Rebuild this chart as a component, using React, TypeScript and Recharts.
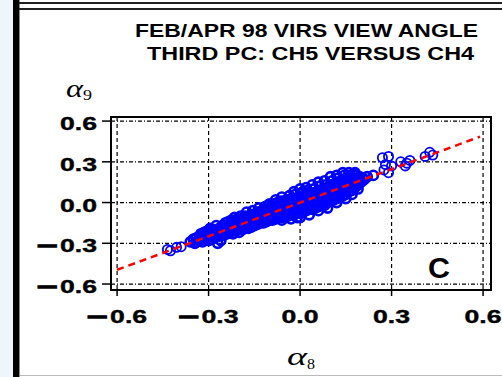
import React from "react";
import {
  CartesianGrid,
  ReferenceArea,
  Scatter,
  ScatterChart,
  XAxis,
  YAxis,
} from "recharts";

// alpha_8 (x) vs alpha_9 (y), third PC, ch5 versus ch4
const mainBand: [number, number][] = [
  [-0.36, -0.29], [-0.35, -0.27], [-0.345, -0.3],
  [-0.34, -0.29], [-0.34, -0.26],
  [-0.33, -0.28], [-0.33, -0.25], [-0.325, -0.23],
  [-0.32, -0.29], [-0.32, -0.26], [-0.315, -0.22],
  [-0.31, -0.27], [-0.31, -0.24], [-0.305, -0.21],
  [-0.3, -0.28], [-0.3, -0.25], [-0.3, -0.22], [-0.295, -0.19],
  [-0.29, -0.27], [-0.29, -0.24], [-0.285, -0.2],
  [-0.28, -0.26], [-0.28, -0.23], [-0.28, -0.2], [-0.275, -0.17],
  [-0.27, -0.3], [-0.27, -0.25], [-0.27, -0.22], [-0.265, -0.19],
  [-0.26, -0.28], [-0.26, -0.24], [-0.26, -0.21], [-0.255, -0.17],
  [-0.25, -0.24], [-0.25, -0.21], [-0.25, -0.18], [-0.245, -0.15],
  [-0.24, -0.23], [-0.24, -0.2], [-0.24, -0.17], [-0.235, -0.14],
  [-0.23, -0.22], [-0.23, -0.19], [-0.23, -0.16], [-0.225, -0.13],
  [-0.22, -0.23], [-0.22, -0.2], [-0.22, -0.17], [-0.22, -0.14], [-0.215, -0.11],
  [-0.21, -0.21], [-0.21, -0.18], [-0.21, -0.15], [-0.205, -0.12],
  [-0.2, -0.22], [-0.2, -0.19], [-0.2, -0.16], [-0.2, -0.13], [-0.195, -0.1],
  [-0.19, -0.2], [-0.19, -0.17], [-0.19, -0.14], [-0.185, -0.11],
  [-0.18, -0.19], [-0.18, -0.16], [-0.18, -0.13], [-0.18, -0.1], [-0.175, -0.07],
  [-0.17, -0.19], [-0.17, -0.16], [-0.17, -0.13], [-0.165, -0.1],
  [-0.16, -0.18], [-0.16, -0.15], [-0.16, -0.12], [-0.16, -0.09], [-0.155, -0.06],
  [-0.15, -0.17], [-0.15, -0.14], [-0.15, -0.11], [-0.145, -0.08],
  [-0.14, -0.16], [-0.14, -0.13], [-0.14, -0.1], [-0.14, -0.07], [-0.135, -0.04],
  [-0.13, -0.15], [-0.13, -0.12], [-0.13, -0.09], [-0.125, -0.06],
  [-0.12, -0.15], [-0.12, -0.12], [-0.12, -0.09], [-0.12, -0.06], [-0.115, -0.03],
  [-0.11, -0.14], [-0.11, -0.11], [-0.11, -0.08], [-0.11, -0.05], [-0.105, -0.02],
  [-0.1, -0.13], [-0.1, -0.1], [-0.1, -0.07], [-0.095, -0.04], [-0.1, -0.01],
  [-0.09, -0.13], [-0.09, -0.1], [-0.09, -0.07], [-0.09, -0.04], [-0.085, -0.01],
  [-0.08, -0.12], [-0.08, -0.09], [-0.08, -0.06], [-0.08, -0.03], [-0.075, 0.0], [-0.08, 0.02],
  [-0.07, -0.11], [-0.07, -0.08], [-0.07, -0.05], [-0.07, -0.02], [-0.065, 0.01],
  [-0.06, -0.13], [-0.06, -0.11], [-0.06, -0.08], [-0.06, -0.05], [-0.06, -0.02], [-0.055, 0.01], [-0.06, 0.04],
  [-0.05, -0.1], [-0.05, -0.07], [-0.05, -0.04], [-0.05, -0.01], [-0.045, 0.02],
  [-0.04, -0.1], [-0.04, -0.07], [-0.04, -0.04], [-0.04, -0.01], [-0.04, 0.02], [-0.035, 0.05],
  [-0.03, -0.12], [-0.03, -0.09], [-0.03, -0.06], [-0.03, -0.03], [-0.03, 0.0], [-0.025, 0.03],
  [-0.02, -0.09], [-0.02, -0.06], [-0.02, -0.03], [-0.02, 0.0], [-0.02, 0.03], [-0.015, 0.06], [-0.02, 0.08],
  [-0.01, -0.11], [-0.01, -0.08], [-0.01, -0.05], [-0.01, -0.02], [-0.01, 0.01], [-0.005, 0.04],
  [0.0, -0.11], [0.0, -0.08], [0.0, -0.05], [0.0, -0.02], [0.0, 0.01], [0.0, 0.04], [0.005, 0.07], [0.0, 0.1],
  [0.01, -0.07], [0.01, -0.04], [0.01, -0.01], [0.01, 0.02], [0.015, 0.05], [0.01, 0.08],
  [0.02, -0.06], [0.02, -0.03], [0.02, 0.0], [0.02, 0.03], [0.02, 0.06], [0.025, 0.09], [0.02, 0.11],
  [0.03, -0.09], [0.03, -0.05], [0.03, -0.02], [0.03, 0.01], [0.03, 0.04], [0.035, 0.07],
  [0.04, -0.05], [0.04, -0.02], [0.04, 0.01], [0.04, 0.04], [0.04, 0.07], [0.045, 0.1], [0.04, 0.13],
  [0.05, -0.04], [0.05, -0.01], [0.05, 0.02], [0.05, 0.05], [0.055, 0.08],
  [0.06, -0.06], [0.06, -0.03], [0.06, 0.0], [0.06, 0.03], [0.06, 0.06], [0.06, 0.09], [0.065, 0.12], [0.06, 0.15],
  [0.07, -0.02], [0.07, 0.01], [0.07, 0.04], [0.07, 0.07], [0.075, 0.1],
  [0.08, -0.02], [0.08, 0.01], [0.08, 0.04], [0.08, 0.07], [0.08, 0.1], [0.085, 0.13], [0.08, 0.16],
  [0.09, -0.04], [0.09, 0.0], [0.09, 0.03], [0.09, 0.06], [0.09, 0.09], [0.095, 0.12],
  [0.1, 0.01], [0.1, 0.04], [0.1, 0.07], [0.1, 0.1], [0.1, 0.13], [0.105, 0.16], [0.1, 0.19],
  [0.11, 0.02], [0.11, 0.05], [0.11, 0.08], [0.11, 0.11], [0.115, 0.14],
  [0.12, 0.0], [0.12, 0.03], [0.12, 0.06], [0.12, 0.09], [0.12, 0.12], [0.12, 0.15], [0.125, 0.18], [0.12, 0.2],
  [0.13, 0.04], [0.13, 0.07], [0.13, 0.1], [0.13, 0.13], [0.135, 0.16],
  [0.14, 0.05], [0.14, 0.08], [0.14, 0.11], [0.14, 0.14], [0.14, 0.17], [0.145, 0.2], [0.14, 0.22],
  [0.15, 0.03], [0.15, 0.06], [0.15, 0.09], [0.15, 0.12], [0.15, 0.15], [0.155, 0.18],
  [0.16, 0.08], [0.16, 0.11], [0.16, 0.14], [0.16, 0.17], [0.165, 0.2], [0.16, 0.22],
  [0.17, 0.06], [0.17, 0.09], [0.17, 0.12], [0.17, 0.15], [0.17, 0.18], [0.175, 0.21],
  [0.18, 0.11], [0.18, 0.14], [0.18, 0.17], [0.185, 0.2], [0.18, 0.22],
  [0.19, 0.1], [0.19, 0.13], [0.19, 0.16], [0.195, 0.19],
  [0.2, 0.15], [0.205, 0.18],
  [0.21, 0.17], [0.22, 0.19], [0.24, 0.2],
];

const lowerCluster: [number, number][] = [
  [-0.435, -0.345], [-0.425, -0.355], [-0.405, -0.33], [-0.39, -0.325],
];

const upperClusters: [number, number][] = [
  [0.27, 0.33], [0.29, 0.34], [0.28, 0.28], [0.29, 0.22], [0.275, 0.24], [0.3, 0.27],
  [0.33, 0.3], [0.345, 0.27], [0.36, 0.31], [0.35, 0.29],
  [0.41, 0.34], [0.425, 0.37], [0.435, 0.35],
];

const fitLine = [
  { x: -0.6, y: -0.495 },
  { x: 0.59, y: 0.485 },
];

const ticks = [-0.6, -0.3, 0, 0.3, 0.6];
const xDomain: [number, number] = [-0.62, 0.626];
const yDomain: [number, number] = [-0.644, 0.63];

const toXY = (list: [number, number][]) => list.map(([x, y]) => ({ x, y }));
const bandData = toXY(mainBand);
const outlierData = toXY([...lowerCluster, ...upperClusters]);

const sans = "'Liberation Sans', Arial, sans-serif";
const serif = "'Liberation Serif', 'DejaVu Serif', serif";

function TickValue({ left, baseline, value }: { left: number; baseline: number; value: number }) {
  const num = Math.abs(value).toFixed(1);
  const common = { fontFamily: sans, fontWeight: 700, fontSize: 19, fill: "#000", stroke: "#000", strokeWidth: 0.4 };
  if (value < 0) {
    return (
      <g>
        <text {...common} x={left} y={baseline} textLength={20} lengthAdjust="spacingAndGlyphs" strokeWidth={1.4}>
          −
        </text>
        <text {...common} x={left + 23} y={baseline} textLength={37} lengthAdjust="spacingAndGlyphs">
          {num}
        </text>
      </g>
    );
  }
  return (
    <text {...common} x={left} y={baseline} textLength={37} lengthAdjust="spacingAndGlyphs">
      {num}
    </text>
  );
}

const labelWidth = (v: number) => (v < 0 ? 60 : 37);

const XTick = (props: any) => {
  const { x, payload } = props;
  return <TickValue left={x - labelWidth(payload.value) / 2} baseline={323} value={payload.value} />;
};

const YTick = (props: any) => {
  const { y, payload } = props;
  return <TickValue left={97 - labelWidth(payload.value)} baseline={y + 9} value={payload.value} />;
};

const BandCircle = (props: any) => (
  <circle cx={props.cx} cy={props.cy} r={4.6} fill="none" stroke="#0000ff" strokeWidth={2.6} />
);

const OpenCircle = (props: any) => (
  <circle cx={props.cx} cy={props.cy} r={4.6} fill="none" stroke="#0000ff" strokeWidth={1.8} />
);

export default function App() {
  return (
    <div style={{ position: "absolute", left: 0, top: 0, width: 502, height: 377, background: "#fff", overflow: "hidden" }}>
      <div style={{ position: "absolute", left: 0, top: 0, width: 13, height: 377, background: "#eef5fd" }} />
      <div style={{ position: "absolute", left: 13, top: 0, width: 6, height: 377, background: "#000" }} />
      <div style={{ position: "absolute", left: 19, top: 0, width: 1, height: 377, background: "#888" }} />
      <div style={{ position: "absolute", left: 19, top: 2, width: 483, height: 2, background: "#222" }} />
      <div style={{ position: "absolute", left: 19, top: 8, width: 483, height: 2, background: "#222" }} />
      <div style={{ position: "absolute", left: 20, top: 375, width: 482, height: 1, background: "#bbb" }} />

      <div style={{ position: "absolute", left: 0, top: 0 }}>
        <ScatterChart width={502} height={377} margin={{ top: 117, right: 11, bottom: 57, left: 0 }}>
          <CartesianGrid horizontal vertical={false} stroke="#000" strokeWidth={1.2} strokeDasharray="4 2 1 2" />
          <CartesianGrid horizontal={false} vertical stroke="#000" strokeWidth={1.2} strokeDasharray="4 3" />
          <XAxis
            type="number"
            dataKey="x"
            domain={xDomain}
            ticks={ticks}
            height={30}
            axisLine={false}
            tickLine={{ stroke: "#000", strokeWidth: 1.5 }}
            tickSize={6}
            tick={<XTick />}
            interval={0}
          />
          <YAxis
            type="number"
            dataKey="y"
            domain={yDomain}
            ticks={ticks}
            width={111}
            axisLine={false}
            tickLine={{ stroke: "#000", strokeWidth: 1.5 }}
            tickSize={9}
            tick={<YTick />}
            interval={0}
          />
          <ReferenceArea
            x1={xDomain[0]}
            x2={xDomain[1]}
            y1={yDomain[0]}
            y2={yDomain[1]}
            fill="none"
            fillOpacity={0}
            stroke="#000"
            strokeWidth={2}
          />
          <Scatter data={bandData} shape={<BandCircle />} isAnimationActive={false} />
          <Scatter data={outlierData} shape={<OpenCircle />} isAnimationActive={false} />
          <Scatter
            data={fitLine}
            line={{ stroke: "#ff0000", strokeWidth: 2.5, strokeDasharray: "7 5" }}
            shape={() => <g />}
            isAnimationActive={false}
          />
        </ScatterChart>
      </div>

      <svg width={502} height={377} style={{ position: "absolute", left: 0, top: 0, pointerEvents: "none" }}>
        <g fontFamily={sans} fontWeight={700} fontSize={19} fill="#000">
          <text x={135} y={37} textLength={343} lengthAdjust="spacingAndGlyphs">
            FEB/APR 98 VIRS VIEW ANGLE
          </text>
          <text x={147} y={60} textLength={327} lengthAdjust="spacingAndGlyphs">
            THIRD PC: CH5 VERSUS CH4
          </text>
          <text x={428} y={278} fontSize={29} textLength={22} lengthAdjust="spacingAndGlyphs">
            C
          </text>
        </g>
        <g fontFamily={serif} fontStyle="italic" fill="#000">
          <text x={66} y={97} fontSize={26} textLength={17} lengthAdjust="spacingAndGlyphs">
            α
          </text>
          <text x={83} y={100} fontSize={15} fontStyle="normal" textLength={9} lengthAdjust="spacingAndGlyphs">
            9
          </text>
          <text x={287} y={365} fontSize={26} textLength={20} lengthAdjust="spacingAndGlyphs">
            α
          </text>
          <text x={307} y={369} fontSize={15} fontStyle="normal" textLength={8} lengthAdjust="spacingAndGlyphs">
            8
          </text>
        </g>
      </svg>
    </div>
  );
}
